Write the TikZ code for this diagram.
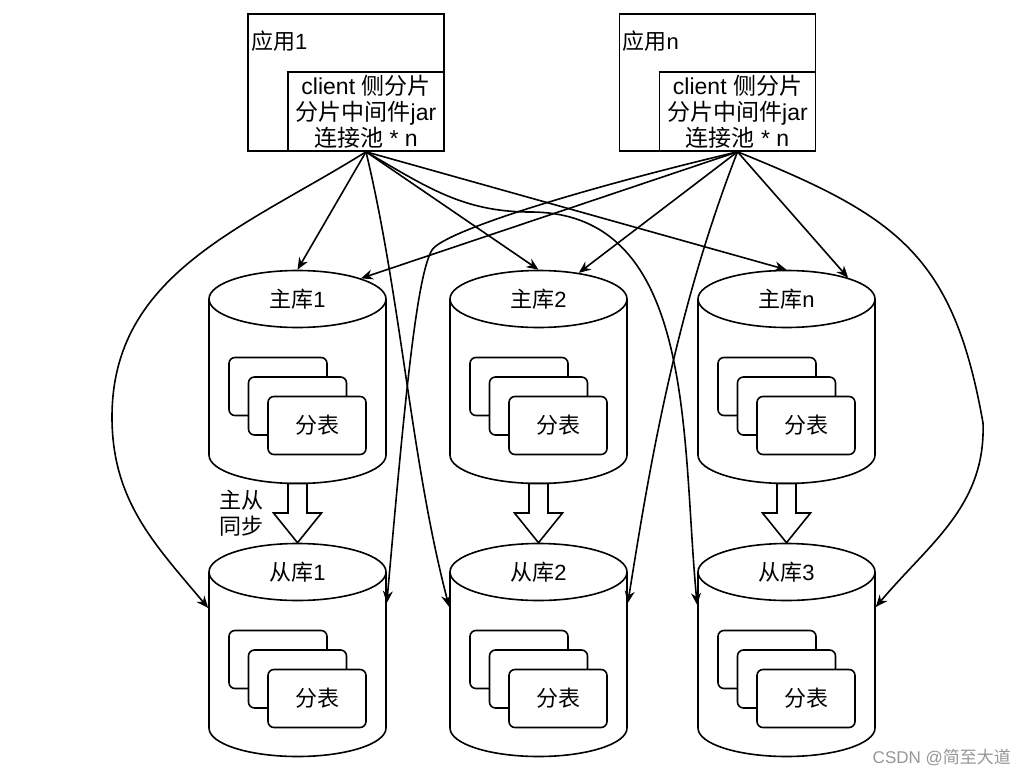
\documentclass[tikz,border=0pt]{standalone}
\usepackage{fontspec}
\setmainfont{Liberation Sans}
\newfontfamily\cjk{Noto Sans CJK SC}
\usepackage{tikz}
\usetikzlibrary{calc}
\usetikzlibrary{positioning}
\usetikzlibrary{shapes.geometric}
\usetikzlibrary{arrows.meta}
\tikzstyle{appnode} = [draw, minimum width=196pt, minimum height=137pt]
\tikzstyle{jarnode} = [draw, minimum width=156pt, minimum height=79pt, inner sep=0pt, align=center, font=\fontsize{23pt}{26pt}\selectfont]
\tikzstyle{dbnode} = [draw, ellipse, fill=white, minimum width=177pt, minimum height=57pt, inner sep=0pt]
\tikzstyle{tblnode} = [draw, rounded corners=6pt, fill=white, minimum width=98pt, minimum height=58pt]
\tikzstyle{linkarrow} = [-{Stealth[length=12pt,width=10pt]}]
\definecolor{wmgray}{RGB}{150,150,150}

\begin{document}
\begin{tikzpicture}[x=1pt, y=1pt, line width=1.6pt, font=\fontsize{22pt}{26pt}\selectfont]
    \useasboundingbox (0,0) rectangle (1030,-776);

    % applications
    \node[appnode] (app1) at (346,-82.5) {};
    \node[jarnode, anchor=south east] (jar1) at (app1.south east) {client {\cjk 侧分片}\\{\cjk 分片中间件}jar\\{\cjk 连接池} * n};
    \node[anchor=west, inner sep=3pt] (app1txt) at ($(app1.north west)+(0,-28)$) {{\cjk 应用}1};

    \node[appnode] (appn) at (717.5,-82.5) {};
    \node[jarnode, anchor=south east] (jarn) at (appn.south east) {client {\cjk 侧分片}\\{\cjk 分片中间件}jar\\{\cjk 连接池} * n};
    \node[anchor=west, inner sep=3pt] (appntxt) at ($(appn.north west)+(0,-28)$) {{\cjk 应用}n};

    % databases
    \foreach \db/\cx/\cy/\lbl in {m1/297.5/-299/{{\cjk 主库}1}, m2/538.5/-299/{{\cjk 主库}2}, m3/786.5/-299/{{\cjk 主库}n},
                                  s1/297.5/-572/{{\cjk 从库}1}, s2/538.5/-572/{{\cjk 从库}2}, s3/786.5/-572/{{\cjk 从库}3}}
    {
        \draw[fill=white] (\cx-88.5,\cy) -- ++(0,-156) arc[start angle=180, end angle=360, x radius=88.5, y radius=28.5] -- ++(0,156);
        \node[dbnode] (\db) at (\cx,\cy) {\lbl};
        \coordinate (\db b) at (\cx,\cy-184.5);
        \node[tblnode] (\db t1) at ($(\db)+(-19.5,-87.5)$) {};
        \node[tblnode] (\db t2) at ($(\db)+(0,-107)$) {};
        \node[tblnode] (\db t3) at ($(\db)+(19.5,-126.5)$) {{\cjk 分表}};
    }

    % master -> slave
    \foreach \a/\b in {m1/s1, m2/s2, m3/s3}
        \draw[fill=white] ($(\a b)+(-9.5,0)$) -- ++(0,-29.5) -- ++(-14.5,0) -- (\b.north)
            -- ($(\a b)+(24,-29.5)$) -- ++(-14.5,0) -- ($(\a b)+(9.5,0)$) -- cycle;
    \node[align=left] (sync) at (241,-513) {{\cjk 主从}\\{\cjk 同步}};

    \coordinate (s1l) at ($(s1.west)+(0,-36)$);
    \coordinate (s1r) at ($(s1.east)+(0,-31)$);
    \coordinate (s2l) at ($(s2.west)+(0,-35)$);
    \coordinate (s2r) at ($(s2.east)+(0,-31)$);
    \coordinate (s3l) at ($(s3.west)+(0,-33)$);
    \coordinate (s3r) at ($(s3.east)+(0,-35)$);

    % app 1
    \draw[linkarrow] (jar1.south) -- (m1.north);
    \draw[linkarrow] (jar1.south) -- (m2.north);
    \draw[linkarrow] (jar1.south) -- (m3.north);
    \draw[linkarrow] (jar1.south) to[out=212,in=90] (112,-417) to[out=270,in=130] (s1l);
    \draw[linkarrow] (jar1.south) .. controls +(35,-146) and +(-38,145) .. (s2l);
    \draw[linkarrow] (jar1.south) .. controls +(59,-34) and +(-68,0) .. (530,-212)
        .. controls +(167,0) and +(-16,167) .. (s3l);

    % app n
    \draw[linkarrow] (jarn.south) -- (m1.18);
    \draw[linkarrow] (jarn.south) -- (m2.33);
    \draw[linkarrow] (jarn.south) -- (m3.19);
    \draw[linkarrow] (jarn.south) .. controls +(-172,-41) and +(10.5,17.3) .. (432,-250)
        .. controls +(-15.6,-25.8) and +(17.6,199) .. (s1r);
    \draw[linkarrow] (jarn.south) .. controls +(-65,-167) and +(19,118) .. (s2r);
    \draw[linkarrow] (jarn.south) to[out=-22,in=100,looseness=1.2] (983,-423) to[out=272,in=50] (s3r);

    \node[anchor=east, text=wmgray, font=\fontsize{17pt}{20pt}\selectfont] (mark) at (1015,-757) {CSDN @{\cjk 简至大道}};
\end{tikzpicture}
\end{document}
